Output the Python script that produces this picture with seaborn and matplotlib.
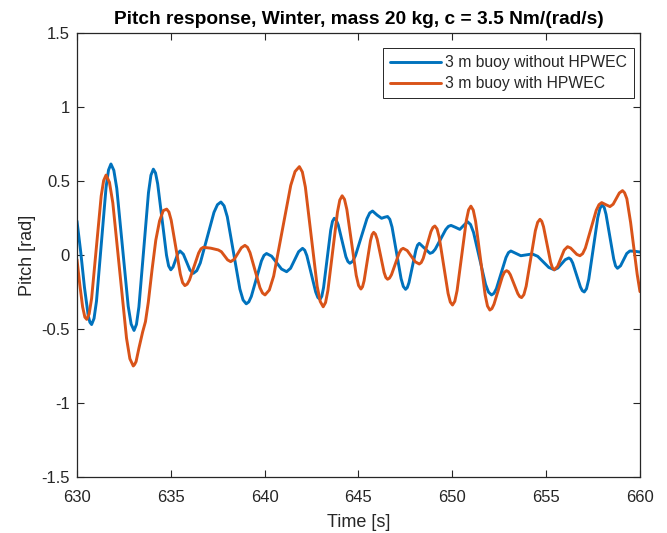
import numpy as np
import pandas as pd
import matplotlib
matplotlib.use("Agg")
import matplotlib.pyplot as plt
import seaborn as sns

# ---- data ----
# blue: "3 m buoy without HPWEC"
t_without = [630.0, 630.2, 630.4, 630.6, 630.69, 630.78,
             630.909, 631.04, 631.295, 631.55, 631.681, 631.81,
             631.964, 632.12, 632.425, 632.73, 632.886, 633.04,
             633.169, 633.30, 633.555, 633.81, 633.941, 634.07,
             634.186, 634.30, 634.535, 634.77, 634.884, 635.0,
             635.12, 635.245, 635.37, 635.49,
             635.67, 635.845, 636.02, 636.2,
             636.384, 636.57, 636.935, 637.30, 637.486, 637.67,
             637.839, 638.01, 638.345, 638.68, 638.851, 639.02,
             639.155, 639.29, 639.56, 639.83, 639.965, 640.1,
             640.37, 640.635, 640.90, 641.17,
             641.38, 641.595, 641.81, 642.02,
             642.136, 642.25, 642.485, 642.72, 642.834, 642.95,
             643.045, 643.14, 643.33, 643.52, 643.615, 643.71,
             643.814, 643.92, 644.125, 644.33, 644.436, 644.54,
             644.691, 644.84, 645.145, 645.45, 645.599, 645.75,
             645.99, 646.23, 646.39, 646.55,
             646.67, 646.79, 647.03, 647.27, 647.39, 647.51,
             647.601, 647.69, 647.875, 648.06, 648.149, 648.24,
             648.525, 648.81,
             648.95, 649.09, 649.37, 649.65, 649.79, 649.93,
             650.165, 650.4, 650.6, 650.81,
             650.97, 651.13, 651.45, 651.77, 651.93, 652.09,
             652.219, 652.35, 652.605, 652.86, 652.991, 653.12,
             653.385, 653.65, 653.955, 654.26,
             654.55, 654.845, 655.14, 655.43,
             655.625, 655.82, 656.015, 656.21,
             656.313, 656.415, 656.62, 656.825, 656.927, 657.03,
             657.15, 657.27, 657.51, 657.75, 657.87, 657.99,
             658.091, 658.19, 658.395, 658.60, 658.699, 658.8,
             658.965, 659.13, 659.295, 659.46,
             659.73, 660.0]
pitch_without = [0.23, 0.02, -0.22, -0.41, -0.455, -0.47,
                 -0.429, -0.312, 0.0725, 0.457, 0.574, 0.615,
                 0.572, 0.451, 0.0525, -0.346, -0.467, -0.51,
                 -0.469, -0.351, 0.035, 0.421, 0.539, 0.58,
                 0.554, 0.481, 0.24, -0.001, -0.074, -0.10,
                 -0.081, -0.037, 0.008, 0.027,
                 0.005, -0.049, -0.102, -0.124,
                 -0.106, -0.054, 0.117, 0.288, 0.340, 0.358,
                 0.332, 0.258, 0.014, -0.230, -0.304, -0.33,
                 -0.317, -0.28, -0.16, -0.04, -0.003, 0.01,
                 -0.008, -0.052, -0.095, -0.113,
                 -0.09, -0.034, 0.022, 0.045,
                 0.032, -0.005, -0.128, -0.25, -0.287, -0.30,
                 -0.279, -0.22, -0.026, 0.168, 0.227, 0.248,
                 0.236, 0.204, 0.096, -0.012, -0.044, -0.056,
                 -0.043, -0.004, 0.12, 0.245, 0.284, 0.297,
                 0.27, 0.248, 0.255, 0.26,
                 0.241, 0.188, 0.014, -0.16, -0.213, -0.232,
                 -0.22, -0.187, -0.077, 0.034, 0.067, 0.079,
                 0.045, 0.011,
                 0.018, 0.039, 0.106, 0.172, 0.193, 0.20,
                 0.187, 0.173, 0.199, 0.225,
                 0.206, 0.153, -0.023, -0.198, -0.251, -0.27,
                 -0.259, -0.227, -0.122, -0.017, 0.016, 0.027,
                 0.011, -0.005, 0.001, 0.007,
                 -0.009, -0.047, -0.084, -0.10,
                 -0.088, -0.06, -0.032, -0.02,
                 -0.029, -0.054, -0.135, -0.216, -0.241, -0.25,
                 -0.228, -0.164, 0.044, 0.252, 0.316, 0.338,
                 0.322, 0.275, 0.124, -0.027, -0.074, -0.09,
                 -0.073, -0.032, 0.01, 0.027,
                 0.025, 0.02]

# orange: "3 m buoy with HPWEC"
t_with = [630.0, 630.15, 630.3, 630.42, 630.52,
          630.649, 630.78, 631.035, 631.29, 631.421, 631.55,
          631.731, 631.91, 632.275, 632.64, 632.819, 633.0,
          633.07, 633.15, 633.3, 633.5, 633.65, 633.8, 634.0, 634.2, 634.4, 634.6, 634.78,
          634.901, 635.02, 635.265, 635.51, 635.629, 635.75,
          635.873, 635.995, 636.24, 636.485, 636.608, 636.73,
          637.13, 637.53,
          637.695, 637.86, 638.025, 638.19,
          638.38, 638.57, 638.76, 638.95,
          639.084, 639.22, 639.485, 639.75, 639.886, 640.02,
          640.249, 640.48, 640.935, 641.39, 641.621, 641.85,
          642.009, 642.17, 642.485, 642.80, 642.961, 643.12,
          643.246, 643.37, 643.625, 643.88, 644.004, 644.13,
          644.255, 644.38, 644.63, 644.88, 645.005, 645.13,
          645.215, 645.30, 645.47, 645.64, 645.725, 645.81,
          645.9025, 645.995, 646.18, 646.365, 646.4575, 646.55,
          646.654, 646.76, 646.965, 647.17, 647.276, 647.38,
          647.595, 647.81, 648.025, 648.24,
          648.344, 648.45, 648.655, 648.86, 648.966, 649.07,
          649.1875, 649.305, 649.54, 649.775, 649.8925, 650.01,
          650.1325, 650.255, 650.5, 650.745, 650.8675, 650.99,
          651.116, 651.24, 651.495, 651.75, 651.874, 652.0,
          652.111, 652.22, 652.445, 652.67, 652.779, 652.89,
          652.99, 653.09, 653.29, 653.49, 653.59, 653.69,
          653.8125, 653.935, 654.18, 654.425, 654.5475, 654.67,
          654.765, 654.86, 655.05, 655.24, 655.335, 655.43,
          655.61, 655.785, 655.96, 656.14,
          656.305, 656.47, 656.635, 656.8,
          656.945, 657.09, 657.38, 657.67, 657.815, 657.96,
          658.18, 658.4,
          658.57, 658.735, 658.9, 659.07,
          659.18, 659.3, 659.5, 659.7, 659.85, 660.0]
pitch_with = [-0.03, -0.2, -0.35, -0.42, -0.435,
              -0.398, -0.293, 0.053, 0.398, 0.503, 0.54,
              0.491, 0.352, -0.105, -0.562, -0.701, -0.75,
              -0.74, -0.72, -0.63, -0.52, -0.45, -0.32, -0.10, 0.10, 0.23, 0.30, 0.31,
              0.29, 0.235, 0.052, -0.131, -0.187, -0.207,
              -0.197, -0.169, -0.078, 0.014, 0.042, 0.052,
              0.046, 0.034,
              0.022, -0.005, -0.033, -0.045,
              -0.029, 0.01, 0.049, 0.065,
              0.052, 0.016, -0.103, -0.221, -0.257, -0.27,
              -0.237, -0.143, 0.164, 0.47, 0.564, 0.597,
              0.561, 0.459, 0.124, -0.212, -0.314, -0.35,
              -0.321, -0.24, 0.025, 0.29, 0.371, 0.40,
              0.376, 0.308, 0.085, -0.138, -0.206, -0.23,
              -0.215, -0.174, -0.039, 0.097, 0.138, 0.153,
              0.141, 0.107, -0.006, -0.118, -0.152, -0.164,
              -0.156, -0.133, -0.06, 0.014, 0.037, 0.045,
              0.03, -0.008, -0.046, -0.061,
              -0.051, -0.023, 0.068, 0.158, 0.186, 0.196,
              0.176, 0.118, -0.071, -0.26, -0.318, -0.338,
              -0.313, -0.24, -0.004, 0.232, 0.305, 0.33,
              0.303, 0.228, -0.021, -0.27, -0.345, -0.372,
              -0.362, -0.333, -0.239, -0.145, -0.116, -0.106,
              -0.113, -0.133, -0.197, -0.261, -0.281, -0.288,
              -0.268, -0.211, -0.024, 0.164, 0.221, 0.241,
              0.228, 0.191, 0.071, -0.05, -0.087, -0.10,
              -0.077, -0.022, 0.033, 0.056,
              0.047, 0.026, 0.004, -0.005,
              0.009, 0.047, 0.175, 0.302, 0.34, 0.354,
              0.34, 0.327,
              0.343, 0.381, 0.419, 0.435,
              0.42, 0.38, 0.22, 0.02, -0.13, -0.248]

series_names = ["3 m buoy without HPWEC", "3 m buoy with HPWEC"]
series_colors = ["#0072BD", "#D95319"]
x_ticks = [630, 635, 640, 645, 650, 655, 660]
y_ticks = [-1.5, -1, -0.5, 0, 0.5, 1, 1.5]
y_tick_labels = ["-1.5", "-1", "-0.5", "0", "0.5", "1", "1.5"]

df = pd.concat([
    pd.DataFrame({"Time": t_without, "Pitch": pitch_without, "Series": series_names[0]}),
    pd.DataFrame({"Time": t_with, "Pitch": pitch_with, "Series": series_names[1]}),
], ignore_index=True)

# ---- style ----
sns.set_theme(style="ticks")
plt.rcParams["font.family"] = ["Liberation Sans", "DejaVu Sans"]
plt.rcParams["axes.unicode_minus"] = False
plt.rcParams["lines.solid_joinstyle"] = "round"
plt.rcParams["lines.solid_capstyle"] = "round"

axc = "#262626"
fig = plt.figure(figsize=(6.67, 5.33), dpi=100)
ax = fig.add_axes([0.1154, 0.1051, 0.8441, 0.8330])

sns.lineplot(data=df, x="Time", y="Pitch", hue="Series", hue_order=series_names,
             palette=series_colors, estimator=None, sort=True,
             linewidth=2.1, ax=ax)

ax.set_xlim(630, 660)
ax.set_ylim(-1.5, 1.5)
ax.set_xticks(x_ticks)
ax.set_xticklabels([str(v) for v in x_ticks])
ax.set_yticks(y_ticks)
ax.set_yticklabels(y_tick_labels)

for s in ax.spines.values():
    s.set_visible(True)
    s.set_color(axc)
    s.set_linewidth(0.9)
ax.tick_params(axis="both", which="both", direction="in", length=5, width=0.8,
               color=axc, labelcolor=axc, labelsize=12, top=True, right=True)
ax.tick_params(axis="x", pad=9.5)
ax.tick_params(axis="y", pad=5)

ax.set_xlabel("Time [s]", fontsize=13, color=axc, labelpad=6)
ax.set_ylabel("Pitch [rad]", fontsize=13, color=axc, labelpad=4)
ax.set_title("Pitch response, Winter, mass 20 kg, c = 3.5 Nm/(rad/s)",
             fontsize=13.8, fontweight="bold", color="black", pad=6.5)

leg = ax.legend(loc="upper right", bbox_to_anchor=(0.9893, 0.9662), borderaxespad=0,
                fontsize=11.3, frameon=True, fancybox=False,
                framealpha=1, edgecolor=axc, handlelength=3.25,
                borderpad=0.45, labelspacing=0.4, handletextpad=0.25)
leg.get_frame().set_linewidth(0.7)
for line in leg.get_lines():
    line.set_linewidth(2.1)
for txt in leg.get_texts():
    txt.set_color(axc)

fig.savefig("out.png", dpi=100, facecolor="white")
